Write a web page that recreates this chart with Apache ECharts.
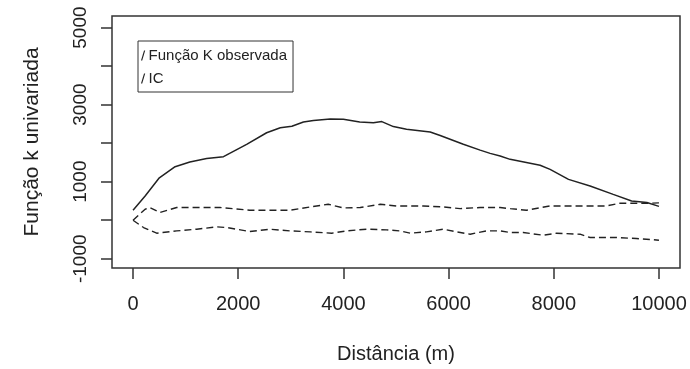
<!DOCTYPE html>
<html>
<head>
<meta charset="utf-8">
<script src="https://cdn.jsdelivr.net/npm/echarts@6/dist/echarts.min.js"></script>
<style>
  html, body { margin: 0; padding: 0; background: #fff; }
  #chart { width: 690px; height: 369px; }
</style>
</head>
<body>
<div id="chart"></div>
<script>
// observed K function
var distObs = [0, 230, 500, 800, 1080, 1400, 1720, 2160, 2540, 2800, 3020, 3240, 3430, 3750, 4000, 4310, 4570, 4730, 4950, 5200, 5650, 5840, 6280, 6600, 6790, 6980, 7170, 7740, 7930, 8280, 8690, 9130, 9480, 9770, 10000];
var kObs = [260, 630, 1100, 1390, 1510, 1600, 1650, 1970, 2270, 2400, 2440, 2550, 2590, 2630, 2620, 2550, 2530, 2560, 2430, 2360, 2290, 2200, 1970, 1820, 1735, 1665, 1580, 1425, 1320, 1060, 890, 670, 500, 460, 360];

// confidence envelope (IC)
var distUpper = [0, 230, 320, 510, 830, 1210, 1650, 2220, 2990, 3370, 3710, 4000, 4320, 4700, 5010, 5520, 5900, 6220, 6600, 6980, 7170, 7480, 7930, 8370, 9000, 9260, 9770, 10000];
var icUpper = [0, 285, 330, 200, 330, 330, 330, 260, 260, 345, 414, 320, 330, 414, 370, 370, 345, 300, 330, 330, 300, 260, 370, 370, 370, 440, 440, 450];
var distLower = [0, 200, 450, 830, 1210, 1590, 1780, 2220, 2600, 2990, 3370, 3780, 4060, 4440, 4820, 5080, 5270, 5580, 5900, 6150, 6410, 6720, 6980, 7170, 7420, 7800, 8050, 8500, 8690, 9190, 9570, 10000];
var icLower = [0, -190, -337, -277, -233, -173, -190, -294, -233, -277, -302, -337, -277, -233, -250, -277, -337, -302, -233, -302, -363, -277, -277, -320, -320, -389, -337, -363, -449, -449, -475, -518];

var xTicks = [0, 2000, 4000, 6000, 8000, 10000];
var yTicks = [-1000, 0, 1000, 2000, 3000, 4000, 5000];
var yLabels = [-1000, 1000, 3000, 5000];

function pairs(xs, ys) {
  return xs.map(function (x, i) { return [x, ys[i]]; });
}
function plain(v) { return String(v); }

var font = 'Liberation Sans, Arial, sans-serif';
var ink = '#333';
var slash = 'path://M0,10 L3,0 L4.2,0 L1.2,10 Z';

var chart = echarts.init(document.getElementById('chart'));
chart.setOption({
  animation: false,
  textStyle: { fontFamily: font, color: '#222' },
  grid: {
    left: 112, top: 16, right: 10, bottom: 100,
    show: true, borderColor: ink, borderWidth: 1.5, backgroundColor: '#fff'
  },
  legend: {
    orient: 'vertical',
    left: 138, top: 41,
    padding: [7, 6, 6, 3],
    itemGap: 8,
    itemWidth: 5, itemHeight: 10,
    borderColor: ink, borderWidth: 1,
    textStyle: { fontSize: 15, color: '#222', lineHeight: 14, padding: [0, 0, 0, -2] },
    data: [
      { name: 'Função K observada', icon: slash },
      { name: 'IC', icon: slash }
    ]
  },
  xAxis: {
    type: 'value',
    min: -400, max: 10400,
    name: 'Distância (m)',
    nameLocation: 'middle',
    nameGap: 76,
    nameTextStyle: { fontSize: 20, color: '#222' },
    axisLine: { show: false, onZero: false },
    splitLine: { show: false },
    axisTick: { show: true, inside: false, length: 11, customValues: xTicks, lineStyle: { color: ink, width: 1.5 } },
    axisLabel: { fontSize: 20, color: '#222', margin: 26, customValues: xTicks, formatter: plain }
  },
  yAxis: {
    type: 'value',
    min: -1240, max: 5300,
    name: 'Função k univariada',
    nameLocation: 'middle',
    nameGap: 69,
    nameTextStyle: { fontSize: 21, color: '#222' },
    axisLine: { show: false, onZero: false },
    splitLine: { show: false },
    axisTick: { show: true, inside: false, length: 11, customValues: yTicks, lineStyle: { color: ink, width: 1.5 } },
    axisLabel: { fontSize: 19, color: '#222', margin: 22, rotate: 90, customValues: yLabels, formatter: plain }
  },
  series: [
    {
      name: 'Função K observada', type: 'line', showSymbol: false,
      data: pairs(distObs, kObs),
      itemStyle: { color: '#222' },
      lineStyle: { color: '#222', width: 1.5 }
    },
    {
      name: 'IC', type: 'line', showSymbol: false,
      data: pairs(distUpper, icUpper),
      itemStyle: { color: '#222' },
      lineStyle: { color: '#222', width: 1.4, type: [7, 4] }
    },
    {
      name: 'IC', type: 'line', showSymbol: false,
      data: pairs(distLower, icLower),
      itemStyle: { color: '#222' },
      lineStyle: { color: '#222', width: 1.4, type: [7, 4] }
    }
  ]
});
</script>
</body>
</html>
